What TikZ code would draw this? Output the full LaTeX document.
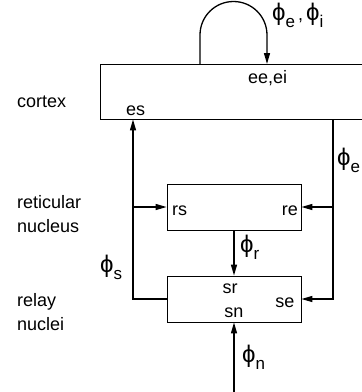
\documentclass[tikz,border=0pt]{standalone}
\usepackage{fontspec}
\setmainfont{Liberation Sans}
\usetikzlibrary{arrows.meta,calc}
\newcommand{\ph}[1]{{\fontsize{24}{24}\selectfont ϕ}\raisebox{-7pt}{\fontsize{17}{20}\selectfont #1}}

\begin{document}
\begin{tikzpicture}[x=1pt, y=-1pt, font=\fontsize{18}{24}\selectfont,
  box/.style={draw, line width=0.8pt, inner sep=0pt},
  conn/.style={line width=1.3pt},
  arr/.style={conn, -{Triangle[length=11pt,width=6pt]}},
  lbl/.style={anchor=base west, inner sep=0pt}]
\useasboundingbox (0,0) rectangle (362,392);
% the three boxes
\node[box, minimum width=266pt, minimum height=55pt] (ctx) at (233,91.5) {};
\node[box, minimum width=134pt, minimum height=46pt] (ret) at (234,207) {};
\node[box, minimum width=134pt, minimum height=46pt] (rel) at (234,299) {};
% names on the left
\node[lbl] (lctx) at (17,107) {cortex};
\node[lbl, align=left] (lret) at (17,232) {reticular\\nucleus};
\node[lbl, align=left] (lrel) at (17,330) {relay\\nuclei};
% labels inside the boxes
\node[lbl] (ee) at (248,83) {ee,ei};
\node[lbl] (es) at (126,115) {es};
\node[lbl] (rs) at (172,215) {rs};
\node[anchor=base east, inner sep=0pt] (re) at (298,215) {re};
\node[anchor=base, inner sep=0pt] (sr) at (230,293) {sr};
\node[anchor=base, inner sep=0pt] (sn) at (234,317) {sn};
\node[anchor=base, inner sep=0pt] (se) at (285,307) {se};
% junctions
\coordinate (lp1) at (200,64);
\coordinate (lp2) at (267,64);
\coordinate (sj) at (133,299);
\coordinate (ej) at (333,299);
\coordinate (nin) at (234,392);
% connectors
\draw[arr] (lp1) -- ++(0,-29) arc[start angle=180, end angle=0, radius=33.5pt] -- (lp2);
\draw[arr] (rel.west) -- (sj) -- (sj |- ctx.south);
\draw[arr] (sj |- ret.west) -- (ret.west);
\draw[arr] (ctx.south -| ej) -- (ej) -- (rel.east);
\draw[arr] (ej |- ret.east) -- (ret.east);
\draw[arr] (ret.south) -- (rel.north);
\draw[arr] (nin) -- (rel.south);
% rates
\node[lbl] (pei) at (272,20) {\ph{e}\,,\,\ph{i}};
\node[lbl] (pe) at (337,165) {\ph{e}};
\node[lbl] (pr) at (240,252) {\ph{r}};
\node[lbl] (ps) at (100,272) {\ph{s}};
\node[lbl] (pn) at (242,362) {\ph{n}};
\end{tikzpicture}
\end{document}
